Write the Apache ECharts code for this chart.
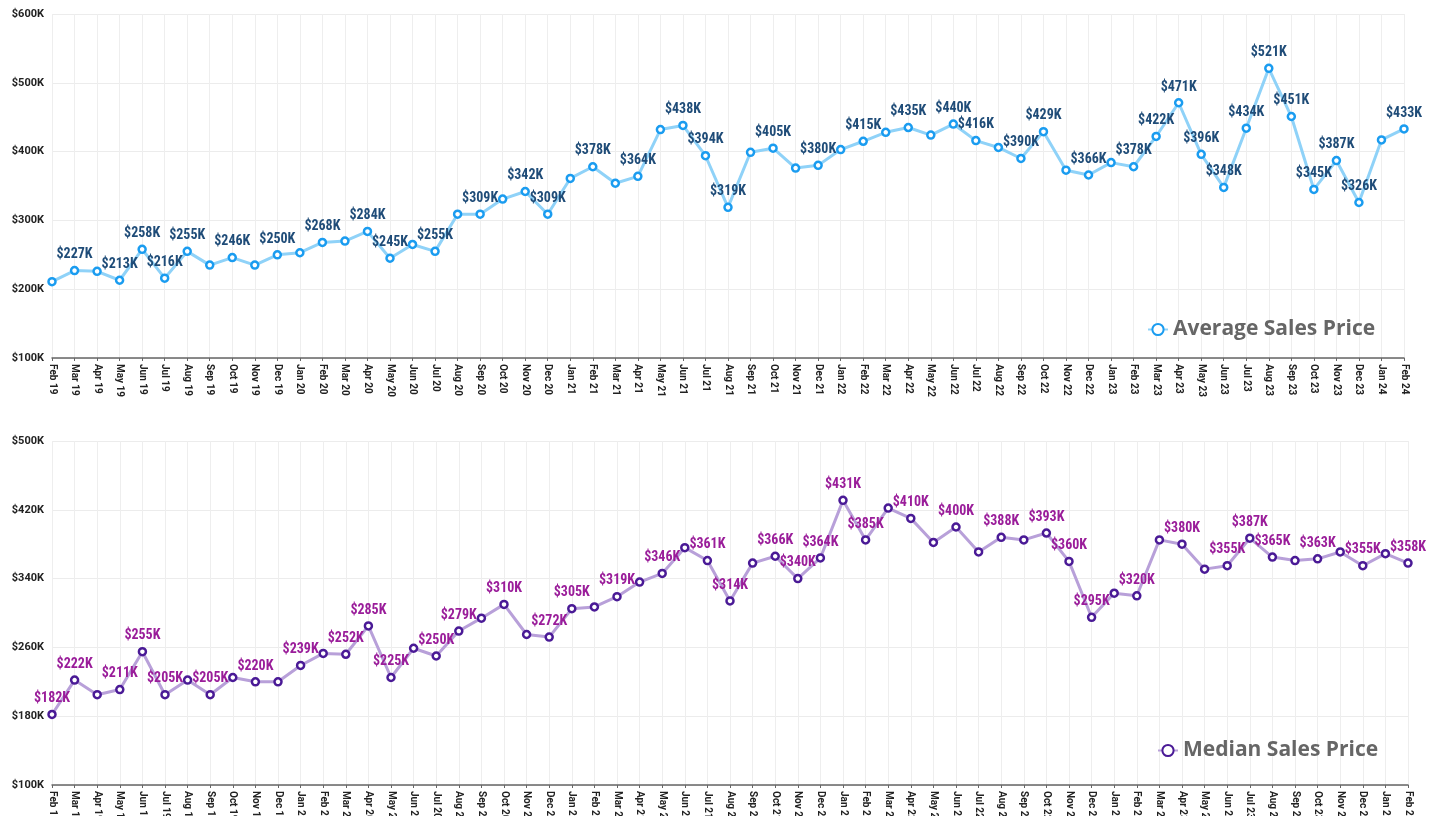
<!DOCTYPE html>
<html>
<head>
<meta charset="utf-8">
<style>
html, body { margin: 0; padding: 0; background: #fff; }
#chartElem { width: 1435px; height: 816px; }
</style>
</head>
<body>
<div id="chartElem"></div>

<script src="https://cdn.jsdelivr.net/npm/echarts@6/dist/echarts.min.js"></script>

<script>

let months = [
	"Feb 19", "Mar 19", "Apr 19", "May 19", "Jun 19", "Jul 19", "Aug 19", "Sep 19", "Oct 19", "Nov 19", "Dec 19",
	"Jan 20", "Feb 20", "Mar 20", "Apr 20", "May 20", "Jun 20", "Jul 20", "Aug 20", "Sep 20", "Oct 20", "Nov 20", "Dec 20",
	"Jan 21", "Feb 21", "Mar 21", "Apr 21", "May 21", "Jun 21", "Jul 21", "Aug 21", "Sep 21", "Oct 21", "Nov 21", "Dec 21",
	"Jan 22", "Feb 22", "Mar 22", "Apr 22", "May 22", "Jun 22", "Jul 22", "Aug 22", "Sep 22", "Oct 22", "Nov 22", "Dec 22",
	"Jan 23", "Feb 23", "Mar 23", "Apr 23", "May 23", "Jun 23", "Jul 23", "Aug 23", "Sep 23", "Oct 23", "Nov 23", "Dec 23",
	"Jan 24", "Feb 24"
];

// values in $K
let averagePrice = [
	211, 227, 226, 213, 258, 216, 255, 235, 246, 235, 250,
	253, 268, 270, 284, 245, 265, 255, 309, 309, 331, 342, 309,
	361, 378, 354, 364, 432, 438, 394, 319, 399, 405, 376, 380,
	403, 415, 428, 435, 424, 440, 416, 406, 390, 429, 373, 366,
	384, 378, 422, 471, 396, 348, 434, 521, 451, 345, 387, 326,
	417, 433
];

let medianPrice = [
	182, 222, 205, 211, 255, 205, 222, 205, 225, 220, 220,
	239, 253, 252, 285, 225, 259, 250, 279, 294, 310, 275, 272,
	305, 307, 319, 336, 346, 376, 361, 314, 358, 366, 340, 364,
	431, 385, 422, 410, 382, 400, 371, 388, 385, 393, 360, 295,
	323, 320, 385, 380, 351, 355, 387, 365, 361, 363, 371, 355,
	369, 358
];

// months whose value is printed on the chart
let averageLabelled = [
	"Mar 19", "May 19", "Jun 19", "Jul 19", "Aug 19", "Oct 19", "Dec 19", "Feb 20", "Apr 20", "May 20",
	"Jul 20", "Sep 20", "Nov 20", "Dec 20", "Feb 21", "Apr 21", "Jun 21", "Jul 21", "Aug 21", "Oct 21",
	"Dec 21", "Feb 22", "Apr 22", "Jun 22", "Jul 22", "Sep 22", "Oct 22", "Dec 22", "Feb 23", "Mar 23",
	"Apr 23", "May 23", "Jun 23", "Jul 23", "Aug 23", "Sep 23", "Oct 23", "Nov 23", "Dec 23", "Feb 24"
];

let medianLabelled = [
	"Feb 19", "Mar 19", "May 19", "Jun 19", "Jul 19", "Sep 19", "Nov 19", "Jan 20", "Mar 20", "Apr 20",
	"May 20", "Jul 20", "Aug 20", "Oct 20", "Dec 20", "Jan 21", "Mar 21", "May 21", "Jul 21", "Aug 21",
	"Oct 21", "Nov 21", "Dec 21", "Jan 22", "Feb 22", "Apr 22", "Jun 22", "Aug 22", "Oct 22", "Nov 22",
	"Dec 22", "Feb 23", "Apr 23", "Jun 23", "Jul 23", "Aug 23", "Oct 23", "Dec 23", "Feb 24"
];

let averageTicks = { min: 100, max: 600, interval: 100 };
let medianTicks = { min: 100, max: 500, interval: 80 };


let chart = echarts.init(document.getElementById("chartElem"));

chart.setOption(buildOption());


function buildOption() {
	let labelFont = "'Liberation Sans Narrow', 'Roboto Condensed', Roboto, sans-serif";
	
	function xAxis(gridIndex) {
		return {
			type: "category",
			gridIndex: gridIndex,
			data: months,
			boundaryGap: false,
			axisLine: { lineStyle: { color: "#666", width: 1.5 } },
			axisTick: { show: true, length: 3, lineStyle: { color: "#666" } },
			axisLabel: {
				interval: 0,
				rotate: -90,
				margin: 6,
				color: "#222",
				fontSize: 10,
				fontWeight: "bold",
				fontFamily: "Roboto"
			},
			splitLine: { show: true, lineStyle: { color: "#eeeeee" } }
		};
	}
	
	function yAxis(gridIndex, ticks) {
		return {
			type: "value",
			gridIndex: gridIndex,
			min: ticks.min,
			max: ticks.max,
			interval: ticks.interval,
			axisLine: { show: false },
			axisTick: { show: false },
			axisLabel: {
				formatter: v => "$" + v + "K",
				color: "#222",
				fontSize: 11,
				fontWeight: "bold",
				fontFamily: "Roboto",
				margin: 8
			},
			splitLine: { lineStyle: { color: "#ececec" } }
		};
	}
	
	function lineSeries(name, idx, values, labelled, lineColor, dotColor, textColor) {
		return {
			name: name,
			type: "line",
			xAxisIndex: idx,
			yAxisIndex: idx,
			data: values,
			symbol: "circle",
			symbolSize: 7,
			lineStyle: { color: lineColor, width: 3 },
			itemStyle: { color: "#fff", borderColor: dotColor, borderWidth: 2.5 },
			label: {
				show: true,
				position: "top",
				distance: 4,
				formatter: p => labelled.includes(months[p.dataIndex]) ? "$" + p.value + "K" : "",
				color: textColor,
				fontSize: 14,
				fontWeight: "bold",
				fontFamily: labelFont
			},
			emphasis: { disabled: true },
			z: 3
		};
	}
	
	function legend(name, left, top) {
		return {
			data: [name],
			left: left,
			top: top,
			itemWidth: 20,
			itemHeight: 14,
			itemGap: 12,
			textStyle: {
				color: "#666",
				fontSize: 21,
				fontWeight: "bold",
				fontFamily: "'Open Sans'"
			}
		};
	}
	
	return {
		animation: false,
		backgroundColor: "#fff",
		grid: [
			{ left: 52, right: 31, top: 14, bottom: 458, outerBoundsMode: "none" },
			{ left: 52, right: 27, top: 441, bottom: 31, outerBoundsMode: "none" }
		],
		legend: [
			legend("Average Sales Price", 1142, 314),
			legend("Median Sales Price", 1152, 735)
		],
		xAxis: [xAxis(0), xAxis(1)],
		yAxis: [yAxis(0, averageTicks), yAxis(1, medianTicks)],
		series: [
			lineSeries("Average Sales Price", 0, averagePrice, averageLabelled, "#8fd2f8", "#1a9cf0", "#1f4c78"),
			lineSeries("Median Sales Price", 1, medianPrice, medianLabelled, "#b8a0d9", "#4a1a96", "#9a1d9a")
		]
	};
}

</script>
</body>
</html>
